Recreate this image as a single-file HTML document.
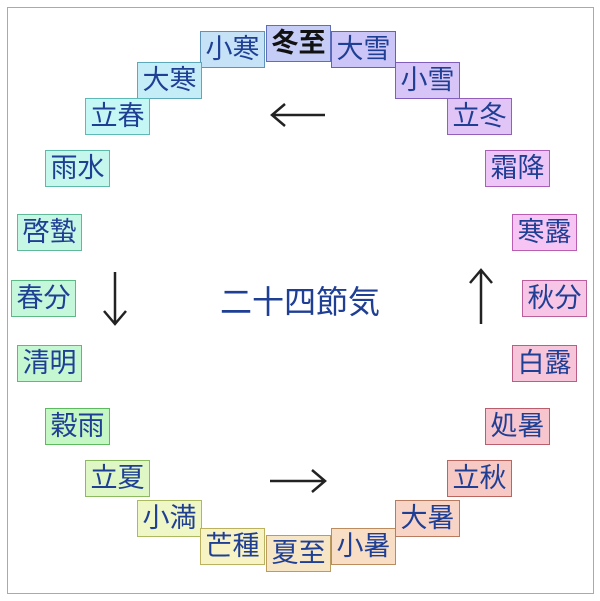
<!DOCTYPE html><html><head><meta charset="utf-8"><style>
body{margin:0;width:600px;height:601px;background:#fff;position:relative;font-family:"Liberation Sans","Noto Sans CJK JP",sans-serif;}
.f{position:absolute;left:7px;top:7px;width:585px;height:585px;border:1px solid #aaa;}
.b{position:absolute;width:63px;height:35px;line-height:35px;text-align:center;font-size:27px;color:#1f3f95;border:1px solid;overflow:visible;white-space:nowrap;}
</style></head><body><div class="f"></div>
<svg style="position:absolute;left:0;top:0" width="600" height="601"><g stroke="#222" stroke-width="2.5" fill="none">
<path d="M272 115H325M285 104L272 115L285 126"/>
<path d="M270 481H325M312 470L325 481L312 492"/>
<path d="M115 272V324M104 311L115 324L126 311"/>
<path d="M481 270V324M470 283L481 270L492 283"/>
</g></svg>
<div style="position:absolute;left:180px;top:277px;width:240px;text-align:center;font-size:32px;color:#1f3f95">二十四節気</div>
<script>
var d=[["冬至",266,25,230],["小寒",200,31,205],["大寒",137,62,192],["立春",85,98,178],["雨水",45,150,168],["啓蟄",17,214,158],["春分",11,280,145],["清明",17,345,135],["穀雨",45,408,120],["立夏",85,460,90],["小満",137,500,70],["芒種",200,528,55],["夏至",266,535,40],["小暑",331,528,30],["大暑",395,500,18],["立秋",447,460,5],["処暑",485,408,350],["白露",512,345,335],["秋分",522,280,320],["寒露",512,214,305],["霜降",485,150,290],["立冬",447,98,275],["小雪",395,62,262],["大雪",331,31,248]];
d.forEach(function(x,i){var e=document.createElement('div');e.className='b';e.textContent=x[0];e.style.left=x[1]+'px';e.style.top=x[2]+'px';e.style.background='hsl('+x[3]+',75%,87%)';e.style.borderColor='hsl('+x[3]+',40%,55%)';if(i==0){e.style.color='#111';e.style.fontWeight='bold';}document.body.appendChild(e);});
</script></body></html>
